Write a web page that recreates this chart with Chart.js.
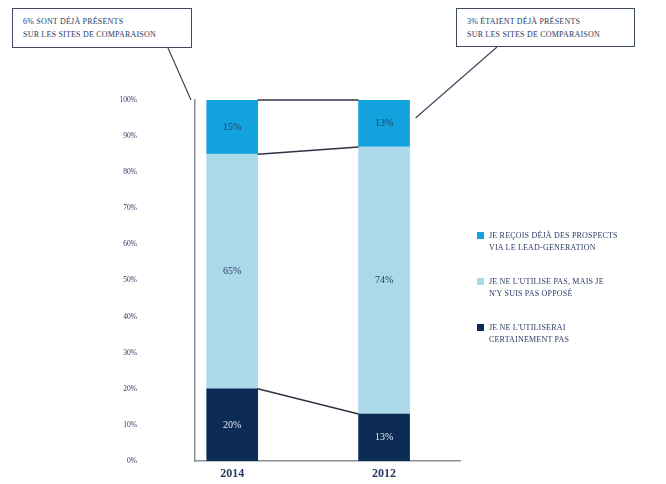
<!DOCTYPE html>
<html>
<head>
<meta charset="utf-8">
<script src="https://cdn.jsdelivr.net/npm/chart.js@4.4.0/dist/chart.umd.min.js"></script>
<style>
  body { margin: 0; background: #fff; }
  #wrap { position: relative; width: 666px; height: 484px; overflow: hidden; }
  #myChart { position: absolute; left: 0; top: 0; }
  .callout {
    position: absolute; border: 1.5px solid #3d4a5c; background: #fff;
    font-family: "Liberation Serif", "DejaVu Serif", serif; font-size: 8px;
    color: #2a3a63; line-height: 13px; padding: 6px 0 0 10px; box-sizing: border-box;
    letter-spacing: 0.2px;
  }
  .legend { position: absolute; left: 477px; top: 230px; font-family: "Liberation Serif", serif;
    font-size: 8px; color: #2a3a63; line-height: 12px; letter-spacing: 0.2px; }
  .legend div { position: relative; padding-left: 12px; margin-bottom: 22px; }
  .legend span { position: absolute; left: 0; top: 2px; width: 7px; height: 7px; }
</style>
</head>
<body>
<div id="wrap">
  <canvas id="myChart" width="666" height="484"></canvas>
  <div class="callout" style="left:12px;top:8px;width:180px;height:40px">6% SONT DÉJÀ PRÉSENTS<br>SUR LES SITES DE COMPARAISON</div>
  <div class="callout" style="left:456px;top:8px;width:179px;height:39px">3% ÉTAIENT DÉJÀ PRÉSENTS<br>SUR LES SITES DE COMPARAISON</div>
  <div class="legend" id="legend"></div>
</div>
<script>
const years = ['2014', '2012'];
const never = [20, 13];
const notOpposed = [65, 74];
const leadGen = [15, 13];
const yTicks = ['0%', '10%', '20%', '30%', '40%', '50%', '60%', '70%', '80%', '90%', '100%'];

const colors = { leadGen: '#12a3de', notOpposed: '#acd9ea', never: '#0c2c55' };
const legendItems = [
  ['JE REÇOIS DÉJÀ DES PROSPECTS<br>VIA LE LEAD-GENERATION', colors.leadGen],
  ['JE NE L\'UTILISE PAS, MAIS JE<br>N\'Y SUIS PAS OPPOSÉ', colors.notOpposed],
  ['JE NE L\'UTILISERAI<br>CERTAINEMENT PAS', colors.never]
];
document.getElementById('legend').innerHTML = legendItems
  .map(it => '<div><span style="background:' + it[1] + '"></span>' + it[0] + '</div>').join('');

const toPoints = arr => arr.map((v, i) => ({ x: i, y: v }));
const navy = '#2a3a63';

// value labels in the middle of each segment
const valueLabels = {
  id: 'valueLabels',
  afterDatasetsDraw(chart) {
    const ctx = chart.ctx;
    ctx.save();
    ctx.font = '10px "Liberation Serif", serif';
    ctx.textAlign = 'center';
    ctx.textBaseline = 'middle';
    chart.data.datasets.forEach((ds, i) => {
      chart.getDatasetMeta(i).data.forEach((el, j) => {
        ctx.fillStyle = i === 0 ? '#dfe8f2' : navy;
        ctx.fillText(ds.data[j].y + '%', el.x, (el.y + el.base) / 2);
      });
    });
    ctx.restore();
  }
};

// lines joining the segment tops between the two bars + callout leaders
const connectors = {
  id: 'connectors',
  afterDatasetsDraw(chart) {
    const ctx = chart.ctx;
    const y = chart.scales.y;
    ctx.save();
    ctx.strokeStyle = '#2c3440';
    ctx.lineWidth = 1.5;
    chart.data.datasets.forEach((ds, i) => {
      const els = chart.getDatasetMeta(i).data;
      ctx.beginPath();
      ctx.moveTo(els[0].x + els[0].width / 2, els[0].y);
      ctx.lineTo(els[1].x - els[1].width / 2, els[1].y);
      ctx.stroke();
    });
    ctx.strokeStyle = '#3d4a5c';
    ctx.lineWidth = 1.2;
    const bar12 = chart.getDatasetMeta(2).data[1];
    ctx.beginPath();
    ctx.moveTo(168, 48);
    ctx.lineTo(chart.chartArea.left - 4, y.getPixelForValue(100));
    ctx.moveTo(497, 47);
    ctx.lineTo(bar12.x + bar12.width / 2 + 6, y.getPixelForValue(95));
    ctx.stroke();
    ctx.restore();
  }
};

const ctx = document.getElementById('myChart').getContext('2d');
new Chart(ctx, {
  type: 'bar',
  data: {
    datasets: [
      { label: 'never', data: toPoints(never), backgroundColor: colors.never },
      { label: 'notOpposed', data: toPoints(notOpposed), backgroundColor: colors.notOpposed },
      { label: 'leadGen', data: toPoints(leadGen), backgroundColor: colors.leadGen }
    ]
  },
  options: {
    responsive: false,
    animation: false,
    layout: { padding: { top: 100, right: 206, left: 0, bottom: 0 } },
    datasets: { bar: { barThickness: 51 } },
    plugins: { legend: { display: false }, tooltip: { enabled: false } },
    scales: {
      x: {
        type: 'linear',
        stacked: true,
        offset: false,
        min: -0.245,
        max: 1.5,
        grid: { display: false, drawTicks: false },
        border: { color: '#8a8f96', width: 1.5 },
        afterBuildTicks: scale => { scale.ticks = [{ value: 0 }, { value: 1 }]; },
        afterFit: scale => { scale.height = 23; },
        ticks: {
          padding: 6,
          color: navy,
          font: { family: '"Liberation Serif", serif', size: 12, weight: 'bold' },
          callback: v => years[v]
        }
      },
      y: {
        stacked: true,
        min: 0,
        max: 100,
        grid: { display: false, drawTicks: false },
        border: { color: '#8a8f96', width: 1.5 },
        // the wide label gap must not eat vertical room
        afterFit: scale => { scale.width = 195; scale.paddingTop = 0; scale.paddingBottom = 0; },
        ticks: {
          stepSize: 10,
          padding: 58,
          color: navy,
          font: { family: '"Liberation Serif", serif', size: 7.5 },
          callback: (v, i) => yTicks[v / 10]
        }
      }
    }
  },
  plugins: [valueLabels, connectors]
});
</script>
</body>
</html>
